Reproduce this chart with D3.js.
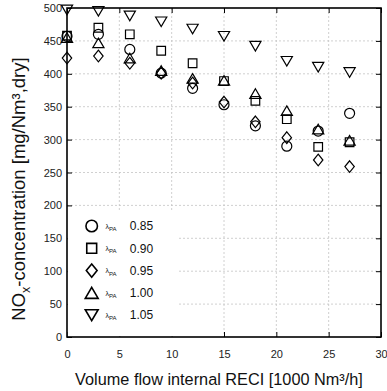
<!DOCTYPE html>
<html>
<head>
<meta charset="utf-8">
<script src="https://cdn.jsdelivr.net/npm/d3@7"></script>
<style>
  html, body { margin: 0; padding: 0; background: #fff; }
  svg { display: block; font-family: "Liberation Sans", Arial, Helvetica, sans-serif; }
</style>
</head>
<body>
<svg id="chart" width="387" height="391"></svg>
<script>
// Volume flow of internal recirculation [1000 Nm³/h]
const xFlow = [0, 3, 6, 9, 12, 15, 18, 21, 24, 27];
// NOx concentration [mg/Nm³, dry] for each primary-air ratio λPA
const nox085 = [457, 460, 437, 401, 378, 353, 321, 290, 313, 340];
const nox090 = [458, 470, 460, 435, 416, 389, 359, 331, 289, 296];
const nox095 = [424, 427, 416, 401, 386, 357, 327, 303, 269, 259];
const nox100 = [455, 447, 424, 405, 393, 390, 370, 344, 316, 299];
const nox105 = [497, 495, 488, 479, 468, 457, 442, 419, 410, 402];
const lambdaLabels = ["0.85", "0.90", "0.95", "1.00", "1.05"];
const shapes = ["circle", "square", "diamond", "triangleUp", "triangleDown"];
const xTicks = [0, 5, 10, 15, 20, 25, 30];
const yTicks = [0, 50, 100, 150, 200, 250, 300, 350, 400, 450, 500];

const seriesValues = [nox085, nox090, nox095, nox100, nox105];

const W = 387, H = 391;
const margin = { left: 67, right: 6, top: 8, bottom: 54 };
const pw = W - margin.left - margin.right;
const ph = H - margin.top - margin.bottom;

const svg = d3.select("#chart");
const g = svg.append("g").attr("transform", `translate(${margin.left},${margin.top})`);

const x = d3.scaleLinear().domain([0, 30]).range([0, pw]);
const y = d3.scaleLinear().domain([0, 500]).range([ph, 0]);

// marker outlines, drawn around (0,0)
function shapePath(kind, s) {
  const p = d3.path();
  if (kind === "circle") {
    const r = 5.0 * s;
    p.moveTo(r, 0); p.arc(0, 0, r, 0, 2 * Math.PI);
  } else if (kind === "square") {
    const h = 4.3 * s;
    p.rect(-h, -h, 2 * h, 2 * h);
  } else if (kind === "diamond") {
    const w = 4.7 * s, h = 5.8 * s;
    p.moveTo(0, -h); p.lineTo(w, 0); p.lineTo(0, h); p.lineTo(-w, 0); p.closePath();
  } else if (kind === "triangleUp") {
    const w = 5.6 * s, h = 4.8 * s;
    p.moveTo(0, -h); p.lineTo(w, h); p.lineTo(-w, h); p.closePath();
  } else {
    const w = 5.6 * s, h = 4.8 * s;
    p.moveTo(-w, -h); p.lineTo(w, -h); p.lineTo(0, h); p.closePath();
  }
  return p.toString();
}

// dashed grid
const grid = g.append("g").attr("class", "grid");
grid.selectAll("line.gx").data(xTicks.slice(1, -1)).join("line")
  .attr("x1", d => x(d)).attr("x2", d => x(d))
  .attr("y1", 0).attr("y2", ph)
  .attr("stroke", "#c4c4c4").attr("stroke-width", 0.8).attr("stroke-dasharray", "2,2");
grid.selectAll("line.gy").data(yTicks.slice(1, -1)).join("line")
  .attr("x1", 0).attr("x2", pw)
  .attr("y1", d => y(d)).attr("y2", d => y(d))
  .attr("stroke", "#c4c4c4").attr("stroke-width", 0.8).attr("stroke-dasharray", "2,2");

// inward ticks on all four sides
const tickLen = 5;
const axB = d3.axisBottom(x).tickValues(xTicks).tickSize(-tickLen).tickPadding(13).tickFormat(d3.format("d"));
const axT = d3.axisTop(x).tickValues(xTicks).tickSize(-tickLen).tickFormat("");
const axL = d3.axisLeft(y).tickValues(yTicks).tickSize(-tickLen).tickPadding(5).tickFormat(d3.format("d"));
const axR = d3.axisRight(y).tickValues(yTicks).tickSize(-tickLen).tickFormat("");

function styleAxis(sel) {
  sel.select(".domain").remove();
  sel.selectAll(".tick line").attr("stroke", "#000").attr("stroke-width", 1);
  sel.selectAll(".tick text").attr("fill", "#222").style("font-size", "11px")
    .style("font-family", "\"Liberation Sans\", Arial, sans-serif");
}
g.append("g").attr("transform", `translate(0,${ph})`).call(axB).call(styleAxis);
g.append("g").call(axT).call(styleAxis);
g.append("g").call(axL).call(styleAxis);
g.append("g").attr("transform", `translate(${pw},0)`).call(axR).call(styleAxis);

// legend backdrop hides the grid behind it
const legend = g.append("g").attr("class", "legend");
legend.append("rect")
  .attr("x", 0.5).attr("y", 202).attr("width", 110).attr("height", ph - 202 - 0.5)
  .attr("fill", "#fff");

// data markers
const series = seriesValues.map((vals, i) => ({ shape: shapes[i], label: lambdaLabels[i], vals }));
const marks = g.append("g").attr("class", "marks");
series.forEach(s => {
  marks.append("g").selectAll("path").data(s.vals.map((v, j) => [xFlow[j], v])).join("path")
    .attr("transform", d => `translate(${x(d[0])},${y(d[1])})`)
    .attr("d", shapePath(s.shape, 1))
    .attr("fill", "none").attr("stroke", "#000").attr("stroke-width", 1.2);
});

// frame
g.append("rect").attr("x", 0).attr("y", 0).attr("width", pw).attr("height", ph)
  .attr("fill", "none").attr("stroke", "#000").attr("stroke-width", 1.6);

// legend entries
const rowY0 = 218, rowStep = 22.3;
series.forEach((s, i) => {
  const ry = rowY0 + i * rowStep;
  const row = legend.append("g").attr("transform", `translate(0,${ry})`);
  row.append("path").attr("transform", "translate(24.7,0)")
    .attr("d", shapePath(s.shape, 1.15))
    .attr("fill", "none").attr("stroke", "#000").attr("stroke-width", 1.6);
  const t = row.append("text").attr("x", 38.5).attr("y", 4.2).attr("fill", "#111");
  t.append("tspan").text("λ").style("font-size", "7px").attr("dy", -1.5);
  t.append("tspan").text("PA").style("font-size", "6px").attr("dy", 2.5);
  t.append("tspan").text(" " + s.label).style("font-size", "12px").attr("x", 59.5).attr("dy", -1);
});

// axis titles
svg.append("text")
  .attr("x", 219).attr("y", 385)
  .attr("text-anchor", "middle").style("font-size", "16.3px").attr("fill", "#111")
  .text("Volume flow internal RECI [1000 Nm³/h]");

const yt = svg.append("text")
  .attr("transform", "translate(25,189) rotate(-90)")
  .attr("text-anchor", "middle").style("font-size", "18.5px").attr("fill", "#111");
yt.append("tspan").text("NO");
yt.append("tspan").text("x").style("font-size", "12.5px").attr("dy", 4.5);
yt.append("tspan").text("-concentration [mg/Nm³,dry]").attr("dy", -4.5);
</script>
</body>
</html>
